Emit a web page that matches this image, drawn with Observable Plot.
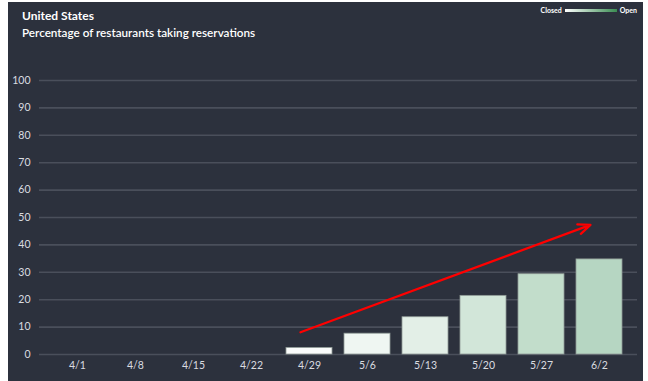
<!DOCTYPE html>
<html>
<head>
<meta charset="utf-8">
<script src="https://cdn.jsdelivr.net/npm/d3@7"></script>
<script src="https://cdn.jsdelivr.net/npm/@observablehq/plot@0.6"></script>
<style>
  html, body { margin: 0; padding: 0; background: #ffffff; }
  #panel {
    position: relative;
    margin-left: 8px; margin-top: 2px;
    width: 635px; height: 379px;
    background: #2c313d;
    font-family: Lato, "Open Sans", sans-serif;
    color: #ffffff;
    overflow: hidden;
  }
  #header { height: 58px; position: relative; }
  #title { position: absolute; left: 14px; top: 6px; font-size: 12px; font-weight: 700; }
  #subtitle { position: absolute; left: 14px; top: 23px; font-size: 11.7px; font-weight: 600; }
  #legend { position: absolute; right: 6px; top: 4px; font-size: 7px; font-weight: 700; display: flex; align-items: center; gap: 3px; }
  #legend .ramp { width: 52px; height: 3px; background: linear-gradient(to right, #ffffff, #3a8c52); }
  svg { display: block; }
</style>
</head>
<body>
<div id="panel">
  <div id="header">
    <div id="title">United States</div>
    <div id="subtitle">Percentage of restaurants taking reservations</div>
    <div id="legend"><span>Closed</span><span class="ramp"></span><span>Open</span></div>
  </div>
  <div id="chart"></div>
</div>
<script>
const weeks = ["4/1", "4/8", "4/15", "4/22", "4/29", "5/6", "5/13", "5/20", "5/27", "6/2"];
const percentOpen = [0, 0, 0, 0, 2.4, 7.6, 13.6, 21.4, 29.3, 34.7];
const yTicks = [0, 10, 20, 30, 40, 50, 60, 70, 80, 90, 100];
const trendFrom = {week: "4/29", value: 8.1};
const trendTo = {week: "6/2", value: 47.3};

const rows = weeks.map((w, i) => ({week: w, value: percentOpen[i]})).filter(d => d.value > 0);

const chart = Plot.plot({
  width: 635,
  height: 321,
  marginLeft: 31,
  marginRight: 6,
  marginTop: 20,
  marginBottom: 27,
  style: {background: "transparent", color: "#dadce0", fontFamily: "Lato, 'Open Sans', sans-serif", fontSize: "10.5px"},
  x: {domain: weeks, paddingInner: 0.2, paddingOuter: 0.255, label: null, tickSize: 0, tickPadding: 7},
  y: {domain: [0, 100], ticks: yTicks, label: null, tickSize: 0, tickPadding: 9},
  color: {type: "linear", domain: [0, 100], range: ["#ffffff", "#2e8a4e"]},
  marks: [
    Plot.ruleY(yTicks, {stroke: "#4a4f5b", strokeWidth: 1.6}),
    Plot.barY(rows, {x: "week", y: "value", fill: "value", stroke: "#8f9a96", strokeWidth: 0.8}),
    Plot.arrow([{x1: trendFrom.week, y1: trendFrom.value, x2: trendTo.week, y2: trendTo.value}], {
      x1: "x1", y1: "y1", x2: "x2", y2: "y2", dx: -9,
      stroke: "#ff0000", strokeWidth: 2.2, headLength: 9, headAngle: 45
    })
  ]
});
document.getElementById("chart").appendChild(chart);
</script>
</body>
</html>
